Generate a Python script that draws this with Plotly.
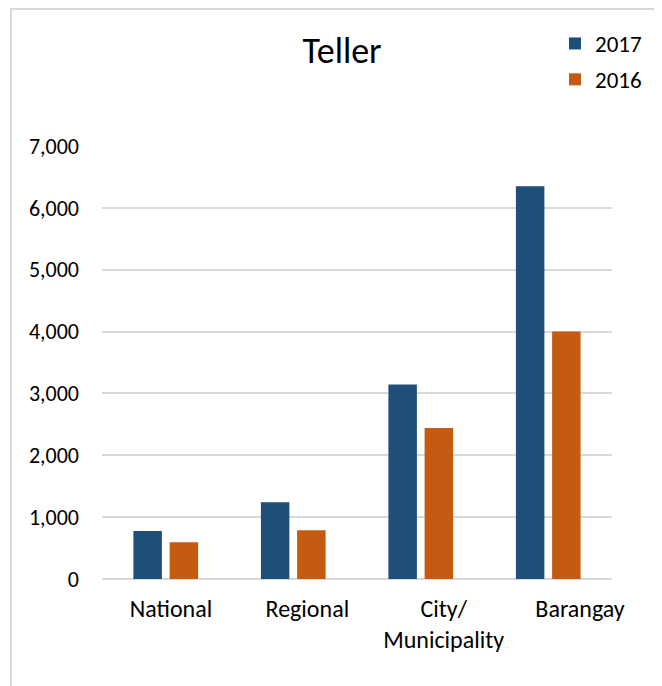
import plotly.graph_objects as go

categories = ["National", "Regional", "City/<br>Municipality", "Barangay"]
values_2017 = [775, 1240, 3145, 6350]
values_2016 = [595, 790, 2440, 4000]
y_ticks = [0, 1000, 2000, 3000, 4000, 5000, 6000, 7000]
label_positions = [0, 1, 2, 3]

FONT = "Carlito, Lato, sans-serif"
OFF = 8  # browser body margin
W, H = 662 - OFF, 686 - OFF
# target screen coordinates of plot area
SX0, SX1, SY0, SY1 = 102, 612, 146, 579
L, R = SX0 - OFF, W - (SX1 - OFF)
T, B = SY0 - OFF, H - (SY1 - OFF)
pw = W - L - R
ph = H - T - B


def px(x):
    return (x - SX0) / pw


def py(y):
    return (SY1 - y) / ph


# category labels sit on a slightly wider spacing than the bar groups
LAB0, LAB3 = 171, 580
slope = (LAB3 - LAB0) / 3.0
lab_range = [(SX0 - LAB0) / slope, (SX1 - LAB0) / slope]

fig = go.Figure()
fig.add_trace(go.Bar(name="2017", x=categories, y=values_2017,
                     marker=dict(color="#1F4E79", line=dict(width=0)),
                     legendgroup="a"))
fig.add_trace(go.Bar(name="2016", x=categories, y=values_2016,
                     marker=dict(color="#C55A11", line=dict(width=0)),
                     legendgroup="b"))
fig.add_trace(go.Scatter(x=label_positions, y=[None] * len(label_positions),
                         xaxis="x2", mode="markers", showlegend=False,
                         hoverinfo="skip"))

fig.add_shape(type="rect", xref="paper", yref="paper",
              x0=px(11), x1=px(720), y0=py(740), y1=py(9),
              line=dict(color="#d9d9d9", width=2), layer="below")

fig.update_layout(
    width=W, height=H,
    margin=dict(l=L, r=R, t=T, b=B),
    paper_bgcolor="white", plot_bgcolor="white",
    font=dict(family=FONT, size=22, color="#000000"),
    barmode="group", bargap=0.432, bargroupgap=0.213,
    title=dict(text="Teller", x=(342 - OFF) / W, xref="container", xanchor="center",
               y=1 - (50 - OFF) / H, yref="container", yanchor="middle",
               font=dict(family=FONT, size=36, color="#000000")),
    legend=dict(x=px(555), xanchor="left", y=py(22), yanchor="top",
                font=dict(family=FONT, size=23), tracegroupgap=3,
                bgcolor="rgba(0,0,0,0)", itemwidth=30),
    showlegend=True,
    xaxis2=dict(overlaying="x", anchor="y", side="bottom", range=lab_range,
                tickvals=label_positions, ticktext=categories,
                showgrid=False, zeroline=False, showline=False, ticks="",
                ticklabelstandoff=13, tickfont=dict(family=FONT, size=24)),
)
fig.update_yaxes(range=[0, 7000], tickvals=y_ticks, tickformat=",d",
                 showgrid=True, gridcolor="#d9d9d9", gridwidth=2,
                 zeroline=True, zerolinecolor="#d9d9d9", zerolinewidth=2,
                 showline=False, ticks="", ticklabelstandoff=22,
                 tickfont=dict(family=FONT, size=22))
fig.update_xaxes(selector=dict(overlaying=None), showgrid=False, showline=False,
                 ticks="", showticklabels=False)

fig.write_html("out.html")
